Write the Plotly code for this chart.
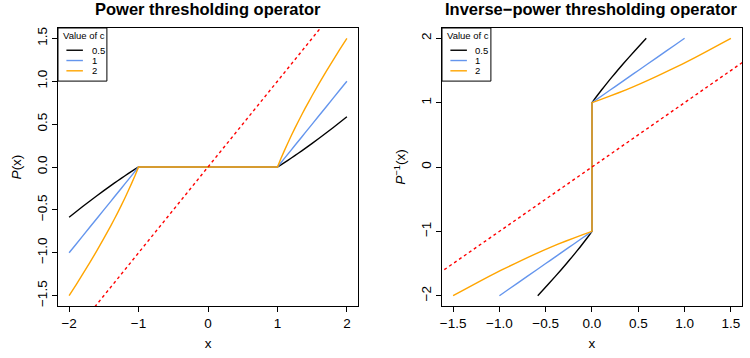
import plotly.graph_objects as go
from plotly.subplots import make_subplots

# Data
x_vals = [-2, -1.9, -1.8, -1.7, -1.6, -1.5, -1.45, -1.4, -1.35, -1.3, -1.25, -1.2, -1.15, -1.1, -1.05, -1,
          1, 1.05, 1.1, 1.15, 1.2, 1.25, 1.3, 1.35, 1.4, 1.45, 1.5, 1.6, 1.7, 1.8, 1.9, 2]
p_c05 = [-0.586, -0.522, -0.458, -0.396, -0.335, -0.275, -0.246, -0.217, -0.188, -0.160, -0.132, -0.105,
         -0.078, -0.051, -0.025, 0,
         0, 0.025, 0.051, 0.078, 0.105, 0.132, 0.160, 0.188, 0.217, 0.246, 0.275, 0.335, 0.396, 0.458,
         0.522, 0.586]
p_c1 = [-1, -0.9, -0.8, -0.7, -0.6, -0.5, -0.45, -0.4, -0.35, -0.3, -0.25, -0.2, -0.15, -0.1, -0.05, 0,
        0, 0.05, 0.1, 0.15, 0.2, 0.25, 0.3, 0.35, 0.4, 0.45, 0.5, 0.6, 0.7, 0.8, 0.9, 1]
p_c2 = [-1.5, -1.374, -1.244, -1.112, -0.975, -0.833, -0.760, -0.686, -0.609, -0.531, -0.45, -0.367,
        -0.280, -0.191, -0.098, 0,
        0, 0.098, 0.191, 0.280, 0.367, 0.45, 0.531, 0.609, 0.686, 0.760, 0.833, 0.975, 1.112, 1.244,
        1.374, 1.5]
identity = [-2.5, 2.5]

legend_title = "Value of c"
series = [("0.5", p_c05, "black"), ("1", p_c1, "cornflowerblue"), ("2", p_c2, "orange")]

FONT = "Liberation Sans, Arial, Helvetica, sans-serif"

fig = make_subplots(rows=1, cols=2)

for name, vals, col in series:
    fig.add_trace(go.Scatter(x=x_vals, y=vals, mode="lines", name=name, showlegend=False,
                             line=dict(color=col, width=1.4, simplify=False)), row=1, col=1)
fig.add_trace(go.Scatter(x=identity, y=identity, mode="lines", showlegend=False,
                         line=dict(color="red", width=1.4, dash="dot")), row=1, col=1)

for name, vals, col in series:
    fig.add_trace(go.Scatter(x=vals, y=x_vals, mode="lines", name=name, showlegend=False,
                             line=dict(color=col, width=1.4, simplify=False)), row=1, col=2)
fig.add_trace(go.Scatter(x=identity, y=identity, mode="lines", showlegend=False,
                         line=dict(color="red", width=1.4, dash="dot")), row=1, col=2)

axis_common = dict(showline=True, mirror=True, linecolor="black", linewidth=1,
                   ticks="outside", ticklen=5, tickcolor="black", showgrid=False,
                   zeroline=False, automargin=False,
                   tickfont=dict(size=13.5, color="black", family=FONT))
title_font = dict(size=13.5, family=FONT, color="black")

fig.update_xaxes(**axis_common)
fig.update_yaxes(**axis_common)

fig.update_xaxes(domain=[0, 0.4386], range=[-2.16, 2.16], tickvals=[-2, -1, 0, 1, 2], row=1, col=1,
                 title=dict(text="x", font=title_font, standoff=8))
fig.update_yaxes(range=[-1.62, 1.62], tickvals=[-1.5, -1, -0.5, 0, 0.5, 1, 1.5], tickformat=".1f",
                 tickangle=-90, ticklabelstandoff=0, row=1, col=1,
                 title=dict(text="<i>P</i>(x)", font=title_font, standoff=9))
fig.update_xaxes(domain=[0.5614, 1], range=[-1.62, 1.62], tickvals=[-1.5, -1, -0.5, 0, 0.5, 1, 1.5],
                 tickformat=".1f", row=1, col=2,
                 title=dict(text="x", font=title_font, standoff=8))
fig.update_yaxes(range=[-2.16, 2.16], tickvals=[-2, -1, 0, 1, 2], tickangle=-90, ticklabelstandoff=0,
                 row=1, col=2,
                 title=dict(text="<i>P</i><sup>−1</sup>(x)", font=title_font, standoff=9))

fig.update_layout(
    width=750, height=358,
    margin=dict(l=58, r=8, t=28, b=52),
    paper_bgcolor="white", plot_bgcolor="white",
    font=dict(family=FONT, color="black"),
    showlegend=False,
)

# Manual R-style legends inside each panel (top-left corner)
leg_font = dict(size=9.5, family=FONT, color="black")
for xr, yr in [("x", "y"), ("x2", "y2")]:
    xd, yd = xr + " domain", yr + " domain"
    fig.add_shape(type="rect", xref=xd, yref=yd, x0=0, x1=0.163, y0=0.809, y1=1,
                  line=dict(color="black", width=1), fillcolor="white", layer="above")
    fig.add_annotation(text=legend_title, xref=xd, yref=yd, x=0.010, y=0.972,
                       xanchor="left", yanchor="middle", showarrow=False, font=leg_font)
    for i, (name, vals, col) in enumerate(series):
        yy = 0.920 - i * 0.037
        fig.add_shape(type="line", xref=xd, yref=yd, x0=0.028, x1=0.083, y0=yy, y1=yy,
                      line=dict(color=col, width=1.4), layer="above")
        fig.add_annotation(text=name, xref=xd, yref=yd, x=0.105, y=yy,
                           xanchor="left", yanchor="middle", showarrow=False, font=leg_font)

fig.add_annotation(text="<b>Power thresholding operator</b>", x=0.2193, y=1, xref="paper", yref="paper",
                   xanchor="center", yanchor="middle", yshift=19, showarrow=False,
                   font=dict(size=16.5, family=FONT, color="black"))
fig.add_annotation(text="<b>Inverse−power thresholding operator</b>", x=0.7807, y=1, xref="paper",
                   yref="paper", xanchor="center", yanchor="middle", yshift=19, showarrow=False,
                   font=dict(size=16.5, family=FONT, color="black"))

fig.write_html("out.html", config={"displayModeBar": False},
               post_script="document.body.style.margin='0';document.body.style.overflow='hidden';")
